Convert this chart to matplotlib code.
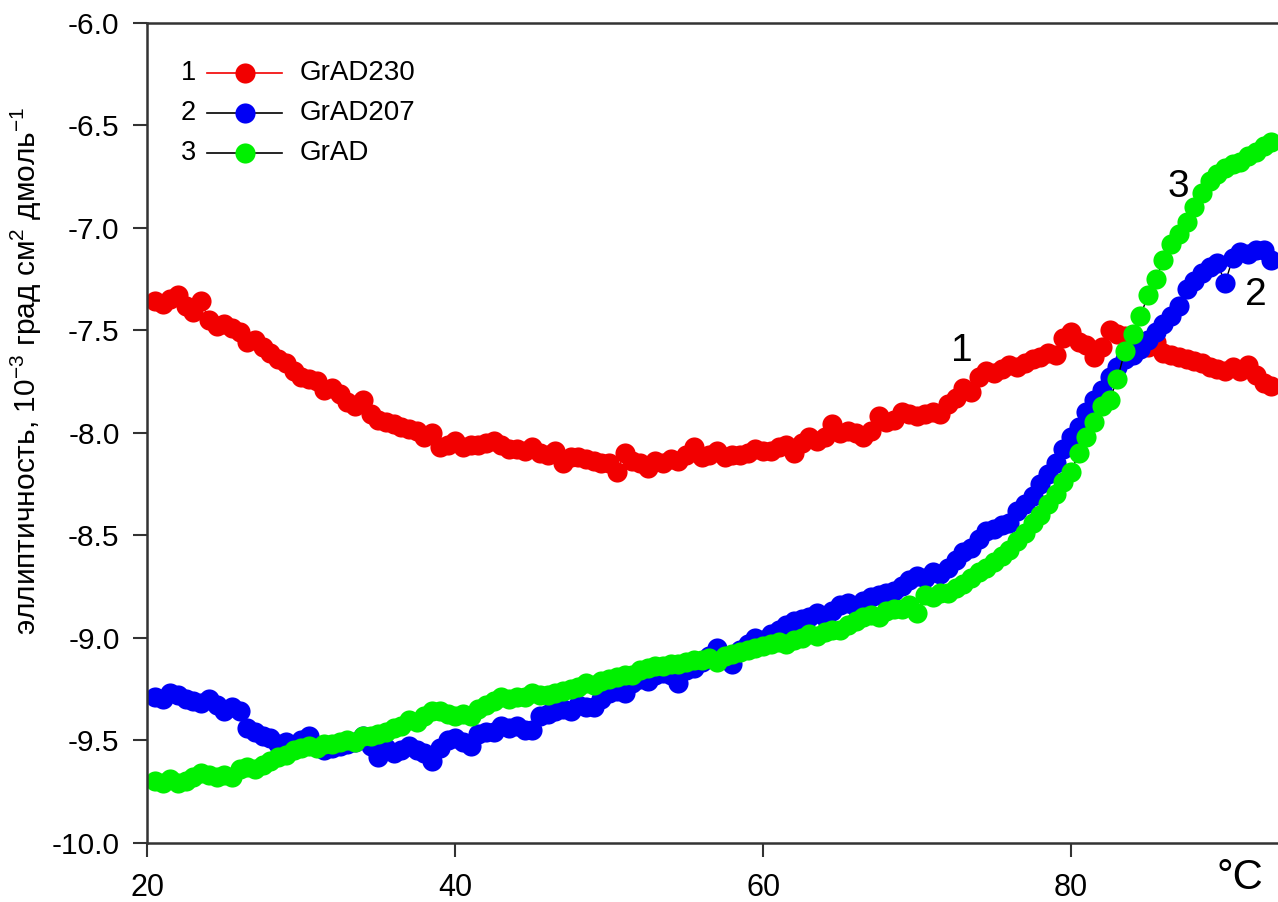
import numpy as np
import matplotlib
matplotlib.use("Agg")
import matplotlib.pyplot as plt
from matplotlib.ticker import FormatStrFormatter

plt.rcParams["font.family"] = ["Liberation Sans", "DejaVu Sans"]
plt.rcParams["mathtext.fontset"] = "custom"
plt.rcParams["mathtext.rm"] = "Liberation Sans"
plt.rcParams["mathtext.it"] = "Liberation Sans:italic"
plt.rcParams["mathtext.default"] = "regular"

# temperature grid, 0.5 degC steps
temp = np.arange(20.5, 93.01, 0.5)

# 1 - GrAD230
grad230 = [
    -7.36, -7.37, -7.35, -7.33, -7.38, -7.41, -7.36, -7.45, -7.48, -7.47,
    -7.49, -7.51, -7.56, -7.55, -7.58, -7.61, -7.64, -7.66, -7.70, -7.73,
    -7.74, -7.75, -7.79, -7.78, -7.81, -7.85, -7.87, -7.84, -7.91, -7.94,
    -7.95, -7.96, -7.97, -7.98, -7.99, -8.02, -8.00, -8.07, -8.06, -8.04,
    -8.07, -8.06, -8.06, -8.05, -8.04, -8.06, -8.08, -8.08, -8.09, -8.07,
    -8.10, -8.11, -8.09, -8.15, -8.12, -8.12, -8.13, -8.14, -8.15, -8.15,
    -8.19, -8.10, -8.14, -8.15, -8.17, -8.14, -8.15, -8.13, -8.14, -8.11,
    -8.07, -8.12, -8.11, -8.09, -8.12, -8.11, -8.11, -8.10, -8.08, -8.09,
    -8.09, -8.07, -8.06, -8.10, -8.05, -8.02, -8.04, -8.02, -7.96, -8.00,
    -7.99, -8.00, -8.02, -7.99, -7.92, -7.95, -7.94, -7.90, -7.91, -7.92,
    -7.91, -7.90, -7.91, -7.86, -7.83, -7.78, -7.80, -7.73, -7.70, -7.71,
    -7.69, -7.67, -7.68, -7.66, -7.64, -7.63, -7.61, -7.62, -7.54, -7.51,
    -7.56, -7.57, -7.63, -7.58, -7.50, -7.52, -7.53, -7.55, -7.56, -7.58,
    -7.56, -7.61, -7.62, -7.63, -7.64, -7.65, -7.66, -7.68, -7.69, -7.70,
    -7.68, -7.70, -7.67, -7.72, -7.76, -7.77,
]

# 2 - GrAD207
grad207 = [
    -9.29, -9.30, -9.27, -9.28, -9.30, -9.31, -9.32, -9.30, -9.33, -9.36,
    -9.34, -9.36, -9.44, -9.46, -9.48, -9.49, -9.52, -9.51, -9.53, -9.50,
    -9.48, -9.53, -9.55, -9.54, -9.53, -9.52, -9.51, -9.48, -9.53, -9.58,
    -9.54, -9.56, -9.55, -9.53, -9.55, -9.56, -9.60, -9.54, -9.50, -9.49,
    -9.51, -9.53, -9.47, -9.46, -9.46, -9.43, -9.44, -9.43, -9.45, -9.45,
    -9.38, -9.37, -9.36, -9.35, -9.36, -9.33, -9.34, -9.34, -9.30, -9.27,
    -9.26, -9.27, -9.22, -9.20, -9.21, -9.18, -9.17, -9.18, -9.22, -9.16,
    -9.15, -9.12, -9.09, -9.05, -9.10, -9.13, -9.06, -9.03, -9.00, -9.01,
    -8.98, -8.96, -8.94, -8.92, -8.91, -8.90, -8.88, -8.90, -8.87, -8.84,
    -8.83, -8.85, -8.82, -8.80, -8.79, -8.78, -8.77, -8.75, -8.72, -8.70,
    -8.71, -8.68, -8.69, -8.66, -8.62, -8.58, -8.56, -8.52, -8.48, -8.47,
    -8.45, -8.44, -8.38, -8.35, -8.31, -8.25, -8.20, -8.15, -8.08, -8.02,
    -7.97, -7.90, -7.84, -7.79, -7.73, -7.68, -7.64, -7.62, -7.59, -7.55,
    -7.51, -7.47, -7.43, -7.38, -7.30, -7.26, -7.22, -7.19, -7.17, -7.27,
    -7.15, -7.12, -7.13, -7.11, -7.11, -7.16,
]

# 3 - GrAD
grad = [
    -9.70, -9.71, -9.69, -9.71, -9.70, -9.68, -9.66, -9.67, -9.68, -9.67,
    -9.68, -9.64, -9.63, -9.64, -9.62, -9.60, -9.58, -9.57, -9.55, -9.54,
    -9.53, -9.54, -9.52, -9.52, -9.51, -9.50, -9.51, -9.48, -9.48, -9.47,
    -9.46, -9.44, -9.43, -9.40, -9.41, -9.38, -9.36, -9.36, -9.37, -9.38,
    -9.37, -9.38, -9.35, -9.33, -9.31, -9.29, -9.30, -9.29, -9.29, -9.27,
    -9.28, -9.28, -9.27, -9.26, -9.25, -9.24, -9.22, -9.23, -9.21, -9.20,
    -9.19, -9.18, -9.18, -9.16, -9.15, -9.14, -9.14, -9.13, -9.13, -9.12,
    -9.11, -9.11, -9.10, -9.12, -9.09, -9.08, -9.07, -9.06, -9.05, -9.04,
    -9.03, -9.02, -9.03, -9.01, -9.00, -8.98, -8.99, -8.97, -8.96, -8.96,
    -8.94, -8.92, -8.90, -8.89, -8.90, -8.87, -8.86, -8.86, -8.84, -8.88,
    -8.79, -8.80, -8.78, -8.78, -8.76, -8.74, -8.71, -8.68, -8.66, -8.63,
    -8.60, -8.57, -8.53, -8.49, -8.44, -8.40, -8.35, -8.30, -8.24, -8.19,
    -8.10, -8.02, -7.95, -7.87, -7.84, -7.74, -7.60, -7.52, -7.43, -7.33,
    -7.25, -7.16, -7.08, -7.03, -6.97, -6.90, -6.83, -6.77, -6.74, -6.71,
    -6.69, -6.68, -6.65, -6.63, -6.60, -6.58,
]

# curve number, legend name, values, marker colour, line colour, label position
series = [
    ("1", "GrAD230", grad230, "#f20000", "#f20000", (72.9, -7.60)),
    ("2", "GrAD207", grad207, "#0000f5", "black", (92.0, -7.33)),
    ("3", "GrAD", grad, "#00f000", "black", (87.0, -6.80)),
]

W, H = 1278, 902
fig = plt.figure(figsize=(W / 100, H / 100), dpi=100)
ax = fig.add_axes([147.3 / W, (H - 842.7) / H, (W - 147.3) / W, 820 / H])

for num, name, vals, mcolor, lcolor, lpos in series:
    ax.plot(temp, vals, color=lcolor, lw=1.0, marker="o", ms=14.5,
            mfc=mcolor, mec=mcolor, mew=0)
    ax.text(lpos[0], lpos[1], num, fontsize=28, ha="center", va="center")

ax.set_xlim(20, 93.44)
ax.set_ylim(-10.0, -6.0)
ax.set_xticks([20, 40, 60, 80])
ax.set_yticks(np.arange(-10.0, -5.99, 0.5))
ax.yaxis.set_major_formatter(FormatStrFormatter("%.1f"))

for side in ["left", "top", "bottom"]:
    ax.spines[side].set_linewidth(1.8)
    ax.spines[side].set_color("#333333")
ax.spines["right"].set_visible(False)
ax.tick_params(axis="both", direction="out", length=10, width=1.5, color="#333333")
ax.tick_params(axis="y", labelsize=21.5, pad=10)
ax.tick_params(axis="x", labelsize=22, pad=12)

ax.set_ylabel("эллиптичность, 10$^{-3}$ град см$^{2}$ дмоль$^{-1}$", fontsize=21.5)
ax.yaxis.set_label_coords(-0.0914, 0.576)

ax.text(0.966, -0.043, "°C", transform=ax.transAxes, fontsize=30,
        ha="center", va="center", clip_on=False)

# legend drawn by hand: number, line with marker, name
rows_y = [0.9387, 0.8899, 0.8410]
for (num, name, vals, mcolor, lcolor, lpos), ry in zip(series, rows_y):
    ax.plot([0.0528, 0.1188], [ry, ry], transform=ax.transAxes, color=lcolor, lw=1.2)
    ax.plot([0.0865], [ry], transform=ax.transAxes, marker="o", ms=14.5,
            mfc=mcolor, mec=mcolor, mew=0)
    ax.text(0.043, ry, num, transform=ax.transAxes, fontsize=19.5, ha="right", va="center")
    ax.text(0.135, ry, name, transform=ax.transAxes, fontsize=20, ha="left", va="center")

fig.savefig("out.png", dpi=100)
